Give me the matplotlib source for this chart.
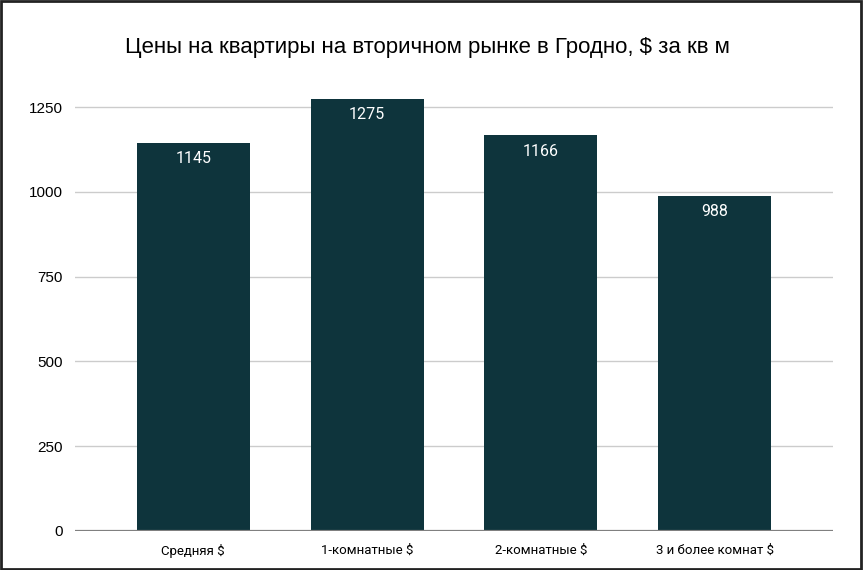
import matplotlib.pyplot as plt
from matplotlib.patches import Rectangle

# data
categories = ["Средняя $", "1-комнатные $", "2-комнатные $", "3 и более комнат $"]
prices = [1145, 1275, 1166, 988]
yticks = [0, 250, 500, 750, 1000, 1250]

bar_color = "#0e343c"

fig = plt.figure(figsize=(8.63, 5.70), dpi=100)
ax = fig.add_axes([75 / 863, 39 / 570, 758 / 863, (531 - 92) / 570])

x = range(len(categories))
bars = ax.bar(x, prices, width=0.65, color=bar_color, zorder=3)
ax.bar_label(bars, labels=[str(p) for p in prices], padding=-17,
             color="white", fontsize=11.5, family="Roboto")

ax.set_xlim(-0.68, 3.68)
ax.set_ylim(0, 1250 * (531 - 92) / (531 - 107))
ax.set_yticks(yticks)
ax.set_yticklabels([str(t) for t in yticks], fontsize=11, family="Liberation Sans")
ax.set_xticks(list(x))
ax.set_xticklabels(categories, fontsize=9.5, family="Roboto")
ax.tick_params(length=0)
ax.tick_params(axis="y", pad=9)
ax.tick_params(axis="x", pad=9)

ax.grid(axis="y", color="#cccccc", linewidth=1, zorder=0)
ax.axhline(0, color="#808080", linewidth=1.6, zorder=4)
for s in ax.spines.values():
    s.set_visible(False)

fig.text(427 / 863, 1 - 47 / 570, "Цены на квартиры на вторичном рынке в Гродно, $ за кв м",
         ha="center", va="center", fontsize=16, family="Liberation Sans")

# outer frame
fig.patches.append(Rectangle((0.001, 0.002), 0.997, 0.996, transform=fig.transFigure,
                             fill=False, edgecolor="#222222", linewidth=2))

fig.savefig("out.png", dpi=100)
